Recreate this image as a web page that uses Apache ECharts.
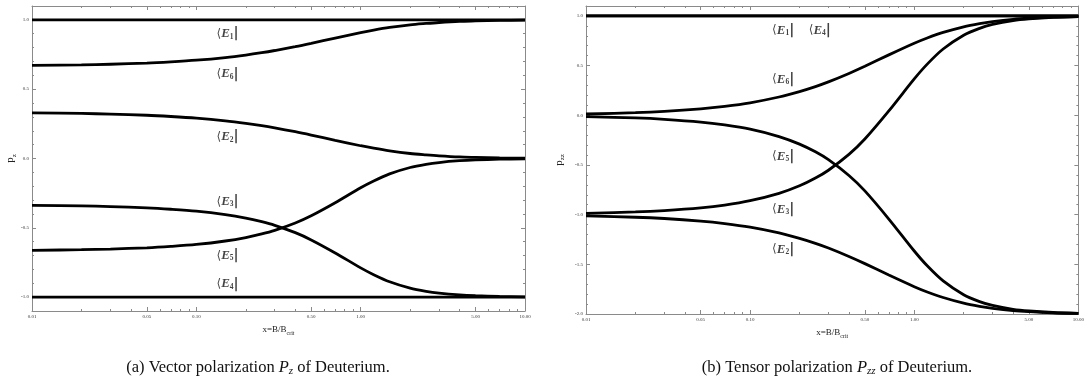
<!DOCTYPE html>
<html>
<head>
<meta charset="utf-8">
<script src="https://cdn.jsdelivr.net/npm/echarts@6/dist/echarts.min.js"></script>
<style>
html, body { margin: 0; padding: 0; background: #fff; }
#chart { width: 1087px; height: 382px; }
</style>
</head>
<body>
<div id="chart"></div>
<script>
// Field strength samples, x = B / B_crit
const xs = [0.01, 0.02, 0.03, 0.05, 0.07, 0.1, 0.15, 0.2, 0.25, 0.3, 0.4, 0.5, 0.7, 1, 1.2, 1.5, 2, 2.5, 3, 4, 5, 7, 10];

// Vector polarization P_z of the six hyperfine states
const pzE1 = [1, 1, 1, 1, 1, 1, 1, 1, 1, 1, 1, 1, 1, 1, 1, 1, 1, 1, 1, 1, 1, 1, 1];
const pzE6 = [0.671, 0.675, 0.680, 0.688, 0.697, 0.709, 0.728, 0.746, 0.763, 0.779, 0.807, 0.831, 0.869, 0.908, 0.926, 0.945, 0.964, 0.974, 0.981, 0.989, 0.992, 0.996, 0.998];
const pzE2 = [0.329, 0.325, 0.320, 0.312, 0.303, 0.291, 0.272, 0.254, 0.237, 0.221, 0.193, 0.169, 0.131, 0.092, 0.074, 0.055, 0.036, 0.026, 0.019, 0.011, 0.008, 0.004, 0.002];
const pzE3 = [-0.338, -0.342, -0.347, -0.356, -0.366, -0.380, -0.405, -0.430, -0.456, -0.482, -0.535, -0.587, -0.681, -0.789, -0.838, -0.889, -0.935, -0.958, -0.971, -0.984, -0.990, -0.995, -0.998];
const pzE5 = [-0.662, -0.658, -0.653, -0.644, -0.634, -0.620, -0.595, -0.570, -0.544, -0.518, -0.465, -0.413, -0.319, -0.211, -0.162, -0.111, -0.065, -0.042, -0.029, -0.016, -0.010, -0.005, -0.002];
const pzE4 = [-1, -1, -1, -1, -1, -1, -1, -1, -1, -1, -1, -1, -1, -1, -1, -1, -1, -1, -1, -1, -1, -1, -1];

// Tensor polarization P_zz of the six hyperfine states
const pzzE1 = [1, 1, 1, 1, 1, 1, 1, 1, 1, 1, 1, 1, 1, 1, 1, 1, 1, 1, 1, 1, 1, 1, 1];
const pzzE4 = [1, 1, 1, 1, 1, 1, 1, 1, 1, 1, 1, 1, 1, 1, 1, 1, 1, 1, 1, 1, 1, 1, 1];
const pzzE6 = [0.013, 0.026, 0.039, 0.065, 0.090, 0.126, 0.184, 0.239, 0.289, 0.336, 0.421, 0.493, 0.608, 0.725, 0.778, 0.834, 0.891, 0.923, 0.943, 0.966, 0.977, 0.988, 0.994];
const pzzE5 = [-0.013, -0.027, -0.041, -0.068, -0.097, -0.140, -0.214, -0.290, -0.368, -0.447, -0.606, -0.761, -1.044, -1.366, -1.515, -1.667, -1.806, -1.875, -1.914, -1.953, -1.970, -1.985, -1.993];
const pzzE3 = [-0.987, -0.973, -0.959, -0.932, -0.904, -0.860, -0.786, -0.710, -0.632, -0.553, -0.394, -0.239, 0.044, 0.366, 0.515, 0.667, 0.806, 0.875, 0.914, 0.953, 0.970, 0.985, 0.993];
const pzzE2 = [-1.013, -1.026, -1.039, -1.065, -1.090, -1.126, -1.184, -1.239, -1.289, -1.336, -1.421, -1.493, -1.608, -1.725, -1.778, -1.834, -1.891, -1.923, -1.943, -1.966, -1.977, -1.988, -1.994];

// Tick values
const xMajorTicks = [0.01, 0.05, 0.1, 0.5, 1, 5, 10];
const xMinorTicks = [0.02, 0.03, 0.04, 0.06, 0.07, 0.08, 0.09, 0.2, 0.3, 0.4, 0.6, 0.7, 0.8, 0.9, 2, 3, 4, 6, 7, 8, 9];
const pzMajorTicks = [-1, -0.5, 0, 0.5, 1];
const pzMinorTicks = [-0.9, -0.8, -0.7, -0.6, -0.4, -0.3, -0.2, -0.1, 0.1, 0.2, 0.3, 0.4, 0.6, 0.7, 0.8, 0.9];
const pzzMajorTicks = [-2, -1.5, -1, -0.5, 0, 0.5, 1];
const pzzMinorTicks = [-1.9, -1.8, -1.7, -1.6, -1.4, -1.3, -1.2, -1.1, -0.9, -0.8, -0.7, -0.6, -0.4, -0.3, -0.2, -0.1, 0.1, 0.2, 0.3, 0.4, 0.6, 0.7, 0.8, 0.9];

// State labels: [state index, x, y]
const pzLabels = [[1, 0.155, 0.90], [6, 0.155, 0.61], [2, 0.155, 0.158], [3, 0.155, -0.31], [5, 0.155, -0.70], [4, 0.155, -0.906]];
const pzzLabels = [[1, 0.159, 0.855], [4, 0.266, 0.855], [6, 0.159, 0.362], [5, 0.159, -0.412], [3, 0.159, -0.946], [2, 0.159, -1.348]];

const FRAME = '#8a8a8a';
const SERIF = 'Liberation Serif, DejaVu Serif, serif';

function xAxes(gridIndex, name) {
  const base = { type: 'log', logBase: 10, min: 0.01, max: 10, gridIndex: gridIndex, splitLine: { show: false } };
  return [
    Object.assign({}, base, {
      position: 'bottom',
      axisLine: { show: true, onZero: false, lineStyle: { color: FRAME, width: 1 } },
      axisTick: { show: true, inside: true, length: 4, customValues: xMajorTicks, lineStyle: { color: FRAME } },
      axisLabel: { show: true, customValues: xMajorTicks, fontSize: 5, fontFamily: SERIF, color: '#333', margin: 3,
        formatter: (v) => Number(v).toFixed(2) },
      name: name, nameLocation: 'middle', nameGap: 13,
      nameTextStyle: { fontFamily: SERIF, fontSize: 9, color: '#222',
        rich: { s: { fontFamily: SERIF, fontSize: 6, color: '#222', padding: [6, 0, 0, 0] } } }
    }),
    Object.assign({}, base, {
      position: 'bottom',
      axisLine: { show: false, onZero: false },
      axisTick: { show: true, inside: true, length: 2, customValues: xMinorTicks, lineStyle: { color: FRAME } },
      axisLabel: { show: false }
    }),
    Object.assign({}, base, {
      position: 'top',
      axisLine: { show: true, onZero: false, lineStyle: { color: FRAME, width: 1 } },
      axisTick: { show: true, inside: true, length: 4, customValues: xMajorTicks, lineStyle: { color: FRAME } },
      axisLabel: { show: false }
    }),
    Object.assign({}, base, {
      position: 'top',
      axisLine: { show: false, onZero: false },
      axisTick: { show: true, inside: true, length: 2, customValues: xMinorTicks, lineStyle: { color: FRAME } },
      axisLabel: { show: false }
    })
  ];
}

function yAxes(gridIndex, min, max, major, minor, name, gap) {
  const base = { type: 'value', min: min, max: max, gridIndex: gridIndex, splitLine: { show: false } };
  return [
    Object.assign({}, base, {
      position: 'left',
      axisLine: { show: true, onZero: false, lineStyle: { color: FRAME, width: 1 } },
      axisTick: { show: true, inside: true, length: 4, customValues: major, lineStyle: { color: FRAME } },
      axisLabel: { show: true, customValues: major, fontSize: 5, fontFamily: SERIF, color: '#333', margin: 3,
        formatter: (v) => Number(v).toFixed(1) },
      name: name, nameLocation: 'middle', nameGap: gap, nameRotate: 90,
      nameTextStyle: { fontFamily: SERIF, fontSize: 11, color: '#222',
        rich: { s: { fontFamily: SERIF, fontSize: 7, color: '#222', padding: [7, 0, 0, 0] } } }
    }),
    Object.assign({}, base, {
      position: 'left',
      axisLine: { show: false, onZero: false },
      axisTick: { show: true, inside: true, length: 2, customValues: minor, lineStyle: { color: FRAME } },
      axisLabel: { show: false }
    }),
    Object.assign({}, base, {
      position: 'right',
      axisLine: { show: true, onZero: false, lineStyle: { color: FRAME, width: 1 } },
      axisTick: { show: true, inside: true, length: 4, customValues: major, lineStyle: { color: FRAME } },
      axisLabel: { show: false }
    }),
    Object.assign({}, base, {
      position: 'right',
      axisLine: { show: false, onZero: false },
      axisTick: { show: true, inside: true, length: 2, customValues: minor, lineStyle: { color: FRAME } },
      axisLabel: { show: false }
    })
  ];
}

function curve(values, axisIndex) {
  return {
    type: 'line',
    xAxisIndex: axisIndex, yAxisIndex: axisIndex,
    data: xs.map((x, i) => [x, values[i]]),
    showSymbol: false, symbol: 'none',
    smooth: 0.3,
    lineStyle: { color: '#000', width: 2.8 },
    silent: true, animation: false, z: 3
  };
}

const labelRich = {
  a: { fontFamily: 'DejaVu Serif', fontSize: 12, color: '#111' },
  e: { fontFamily: SERIF, fontSize: 13, fontStyle: 'italic', fontWeight: 'bold', color: '#111' },
  s: { fontFamily: SERIF, fontSize: 7.5, fontWeight: 'bold', color: '#111', padding: [6, 0, 0, 0] },
  b: { fontFamily: 'DejaVu Sans', fontSize: 14, fontWeight: 'bold', color: '#111' }
};

function stateLabels(list, axisIndex) {
  return {
    type: 'scatter',
    xAxisIndex: axisIndex, yAxisIndex: axisIndex,
    symbolSize: 0,
    silent: true, animation: false, z: 5,
    data: list.map((d) => ({ value: [d[1], d[2]], name: String(d[0]) })),
    label: {
      show: true, position: 'inside',
      formatter: (p) => '{a|⟨}{e|E}{s|' + p.name + '}{b||}',
      rich: labelRich
    }
  };
}

const chart = echarts.init(document.getElementById('chart'), null, { renderer: 'canvas' });

chart.setOption({
  backgroundColor: '#fff',
  animation: false,
  grid: [
    { left: 32, top: 6, width: 493, height: 305 },
    { left: 586, top: 6, width: 497, height: 308 }
  ],
  xAxis: [].concat(xAxes(0, 'x=B/B{s|crit}'), xAxes(1, 'x=B/B{s|crit}')),
  yAxis: [].concat(
    yAxes(0, -1.1, 1.1, pzMajorTicks, pzMinorTicks, 'p{s|z}', 14),
    yAxes(1, -2, 1.1, pzzMajorTicks, pzzMinorTicks, 'p{s|zz}', 20)
  ),
  series: [
    curve(pzE1, 0), curve(pzE6, 0), curve(pzE2, 0), curve(pzE3, 0), curve(pzE5, 0), curve(pzE4, 0),
    stateLabels(pzLabels, 0),
    curve(pzzE1, 4), curve(pzzE4, 4), curve(pzzE6, 4), curve(pzzE5, 4), curve(pzzE3, 4), curve(pzzE2, 4),
    stateLabels(pzzLabels, 4)
  ],
  graphic: [
    {
      type: 'text', x: 258, y: 368,
      style: {
        text: '(a) Vector polarization {i|P}{s|z} of Deuterium.',
        fontFamily: SERIF, fontSize: 16.5, fill: '#111', align: 'center', verticalAlign: 'middle',
        rich: {
          i: { fontFamily: SERIF, fontSize: 16.5, fontStyle: 'italic', fill: '#111' },
          s: { fontFamily: SERIF, fontSize: 11, fontStyle: 'italic', fill: '#111', padding: [7, 0, 0, 0] }
        }
      }
    },
    {
      type: 'text', x: 837, y: 368,
      style: {
        text: '(b) Tensor polarization {i|P}{s|zz} of Deuterium.',
        fontFamily: SERIF, fontSize: 16.5, fill: '#111', align: 'center', verticalAlign: 'middle',
        rich: {
          i: { fontFamily: SERIF, fontSize: 16.5, fontStyle: 'italic', fill: '#111' },
          s: { fontFamily: SERIF, fontSize: 11, fontStyle: 'italic', fill: '#111', padding: [7, 0, 0, 0] }
        }
      }
    }
  ]
});
</script>
</body>
</html>
